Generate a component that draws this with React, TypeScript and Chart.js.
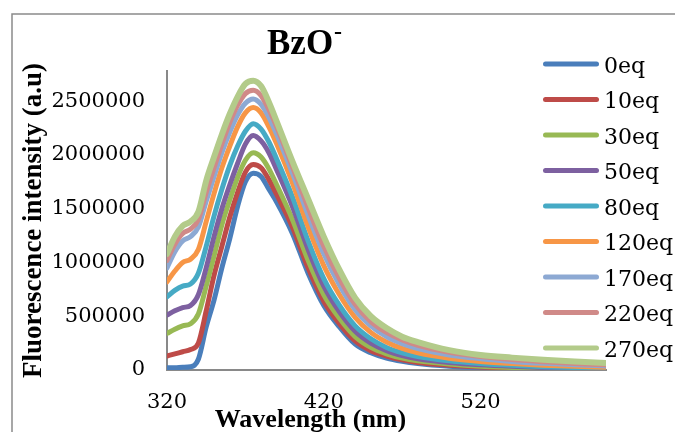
import React, { useEffect, useRef } from 'react';
import { Chart, registerables } from 'chart.js';

Chart.register(...registerables);

// ---- data ----
const wavelengths = [320, 325, 330, 335, 340, 345, 350, 355, 360, 365, 370, 375, 380, 385, 390, 400, 410, 420, 430, 440, 450, 460, 470, 480, 500, 520, 540, 560, 580, 600];

const eq0 = [20000, 20000, 25000, 30000, 100000, 400000, 650000, 950000, 1220000, 1520000, 1750000, 1830000, 1800000, 1680000, 1560000, 1270000, 900000, 600000, 400000, 240000, 160000, 110000, 80000, 60000, 35000, 20000, 12000, 8000, 5000, 3000];
const eq10 = [130000, 150000, 170000, 190000, 250000, 550000, 880000, 1150000, 1420000, 1650000, 1840000, 1910000, 1880000, 1770000, 1630000, 1330000, 950000, 640000, 430000, 270000, 180000, 130000, 95000, 70000, 45000, 28000, 18000, 12000, 8000, 5000];
const eq30 = [340000, 380000, 410000, 430000, 520000, 780000, 1060000, 1350000, 1580000, 1790000, 1950000, 2020000, 1980000, 1870000, 1720000, 1400000, 1020000, 700000, 480000, 310000, 210000, 150000, 110000, 85000, 55000, 35000, 24000, 16000, 11000, 8000];
const eq50 = [510000, 550000, 580000, 600000, 700000, 950000, 1240000, 1500000, 1720000, 1920000, 2100000, 2180000, 2130000, 2020000, 1860000, 1520000, 1120000, 780000, 540000, 360000, 250000, 180000, 135000, 105000, 70000, 48000, 34000, 24000, 17000, 12000];
const eq80 = [680000, 740000, 780000, 800000, 900000, 1150000, 1430000, 1680000, 1900000, 2080000, 2220000, 2290000, 2240000, 2120000, 1960000, 1610000, 1200000, 850000, 600000, 410000, 290000, 210000, 160000, 125000, 85000, 60000, 43000, 31000, 23000, 17000];
const eq120 = [820000, 920000, 1000000, 1030000, 1120000, 1380000, 1640000, 1880000, 2080000, 2260000, 2390000, 2440000, 2390000, 2260000, 2100000, 1740000, 1330000, 970000, 700000, 490000, 350000, 260000, 200000, 160000, 110000, 80000, 60000, 45000, 34000, 26000];
const eq170 = [950000, 1100000, 1200000, 1240000, 1330000, 1570000, 1800000, 2020000, 2210000, 2370000, 2480000, 2520000, 2470000, 2350000, 2190000, 1830000, 1440000, 1080000, 790000, 560000, 410000, 310000, 245000, 200000, 140000, 105000, 80000, 62000, 48000, 38000];
const eq220 = [1020000, 1170000, 1270000, 1310000, 1400000, 1650000, 1880000, 2100000, 2300000, 2460000, 2570000, 2600000, 2550000, 2420000, 2260000, 1890000, 1510000, 1150000, 850000, 610000, 450000, 350000, 280000, 230000, 165000, 125000, 97000, 77000, 60000, 48000];
const eq270 = [1080000, 1240000, 1340000, 1380000, 1470000, 1760000, 1980000, 2190000, 2380000, 2540000, 2660000, 2690000, 2640000, 2490000, 2310000, 1940000, 1590000, 1240000, 930000, 670000, 500000, 390000, 310000, 260000, 185000, 140000, 115000, 95000, 78000, 65000];

const seriesValues = [eq0, eq10, eq30, eq50, eq80, eq120, eq170, eq220, eq270];
const seriesNames = ['0eq', '10eq', '30eq', '50eq', '80eq', '120eq', '170eq', '220eq', '270eq'];
const seriesColors = ['#4A7EBB', '#BE4B48', '#98B954', '#7D60A0', '#46AAC5', '#F79646', '#8DA9D3', '#D08A88', '#B3CB8A'];

const xTicks = [320, 420, 520];
const yTicks = [0, 500000, 1000000, 1500000, 2000000, 2500000];

const titleMain = 'BzO';
const titleSup = '-';
const xTitle = 'Wavelength (nm)';
const yTitle = 'Fluorescence intensity (a.u)';

const decorPlugin = {
  id: 'decor',
  beforeDraw(chart: any) {
    const ctx = chart.ctx;
    ctx.save();
    ctx.fillStyle = '#ffffff';
    ctx.fillRect(0, 0, chart.width, chart.height);
    ctx.strokeStyle = '#8a8a8a';
    ctx.lineWidth = 1.5;
    ctx.strokeRect(12, 14, 900, 700);
    ctx.restore();
  },
  afterDraw(chart: any) {
    const ctx = chart.ctx;
    ctx.save();
    ctx.fillStyle = '#000000';
    ctx.textBaseline = 'alphabetic';
    ctx.textAlign = 'left';
    ctx.font = 'bold 35px "Liberation Serif"';
    ctx.fillText(titleMain, 267, 54);
    const w = ctx.measureText(titleMain).width;
    ctx.font = 'bold 24px "Liberation Serif"';
    ctx.fillText(titleSup, 267 + w + 1, 39);

    ctx.font = 'bold 26px "Liberation Serif"';
    ctx.textAlign = 'center';
    ctx.fillText(xTitle, 310.5, 426.5);

    chart.data.datasets.forEach((ds: any, i: number) => {
      const y = 64 + i * 35.5;
      ctx.strokeStyle = ds.borderColor;
      ctx.lineWidth = 5;
      ctx.lineCap = 'round';
      ctx.beginPath();
      ctx.moveTo(545.5, y);
      ctx.lineTo(596.5, y);
      ctx.stroke();
      ctx.font = '22px "DejaVu Serif"';
      ctx.textAlign = 'left';
      ctx.fillStyle = '#000000';
      ctx.fillText(ds.label, 604, y + 8.5);
    });
    ctx.restore();
  },
};

export default function App() {
  const canvasRef = useRef<HTMLCanvasElement | null>(null);

  useEffect(() => {
    const canvas = canvasRef.current;
    if (!canvas) return;
    const datasets = seriesValues.map((vals, i) => ({
      label: seriesNames[i],
      data: wavelengths.map((w, j) => ({ x: w, y: vals[j] })),
      borderColor: seriesColors[i],
      backgroundColor: seriesColors[i],
      borderWidth: i === 8 ? 6 : 5,
      pointRadius: 0,
      pointHoverRadius: 0,
      cubicInterpolationMode: 'monotone' as const,
      borderCapStyle: 'round' as const,
      borderJoinStyle: 'round' as const,
      fill: false,
      order: 8 - i,
    }));

    const chart = new Chart(canvas, {
      type: 'line',
      data: { datasets },
      options: {
        responsive: false,
        maintainAspectRatio: false,
        animation: false,
        events: [],
        layout: { padding: { left: 0, top: 71, right: 69, bottom: 0 } },
        plugins: {
          legend: { display: false },
          title: { display: false },
          tooltip: { enabled: false },
        },
        scales: {
          x: {
            type: 'linear',
            min: 320,
            max: 600,
            grid: { display: false, drawTicks: false, tickLength: 0 },
            border: { display: true, color: '#898989', width: 2 },
            ticks: {
              padding: 20,
              color: '#000000',
              font: { family: 'DejaVu Serif', size: 21 },
              maxRotation: 0,
              callback: (v: any) => String(v),
            },
            afterBuildTicks: (scale: any) => {
              scale.ticks = xTicks.map((v) => ({ value: v }));
            },
            afterFit: (scale: any) => {
              scale.height = 62;
            },
          },
          y: {
            type: 'linear',
            min: 0,
            max: 2780000,
            grid: { display: false, drawTicks: false, tickLength: 0 },
            border: { display: true, color: '#898989', width: 2 },
            ticks: {
              padding: 22,
              color: '#000000',
              font: { family: 'DejaVu Serif', size: 21 },
              callback: (v: any) => String(v),
            },
            afterBuildTicks: (scale: any) => {
              scale.ticks = yTicks.map((v) => ({ value: v }));
            },
            afterFit: (scale: any) => {
              scale.width = 167;
            },
            title: {
              display: true,
              text: yTitle,
              color: '#000000',
              font: { family: 'Liberation Serif', size: 27, weight: 'bold' },
              padding: { top: 18, bottom: 0 },
            },
          },
        },
      },
      plugins: [decorPlugin],
    });

    return () => {
      chart.destroy();
    };
  }, []);

  return (
    <div
      style={{
        position: 'fixed',
        left: 0,
        top: 0,
        width: 675,
        height: 432,
        overflow: 'hidden',
        background: '#ffffff',
      }}
    >
      <canvas ref={canvasRef} width={675} height={432} style={{ display: 'block', width: 675, height: 432 }} />
    </div>
  );
}
